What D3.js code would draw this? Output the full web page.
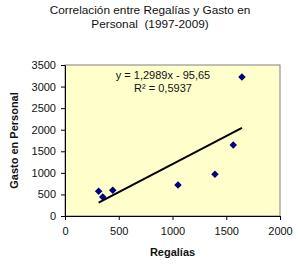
<!DOCTYPE html>
<html>
<head>
<meta charset="utf-8">
<script src="https://cdn.jsdelivr.net/npm/d3@7"></script>
<style>
  body { margin: 0; background: #fff; }
  svg text { font-family: "Liberation Sans", Arial, sans-serif; fill: #111; }
</style>
</head>
<body>
<svg id="chart" width="300" height="265"></svg>
<script>
// data
var regalias = [313, 351, 444, 1051, 1395, 1565, 1646]
var gasto = [573, 440, 596, 719, 967, 1646, 3222]
var xTicks = [0, 500, 1000, 1500, 2000]
var yTicks = [0, 500, 1000, 1500, 2000, 2500, 3000, 3500]
var slope = 1.2989
var intercept = -95.65
var eqLines = ["y = 1,2989x - 95,65", "R² = 0,5937"]
var titleLines = ["Correlación entre Regalías y Gasto en", "Personal  (1997-2009)"]

var margins = { top: 65, left: 65, right: 20, bottom: 49 }
var width = 300 - margins.left - margins.right
var height = 265 - margins.top - margins.bottom

var svg = d3.select('#chart')

// title
svg.append('text')
  .attr('x', 150)
  .attr('text-anchor', 'middle')
  .style('font-size', '11.8px')
  .style('white-space', 'pre')
  .selectAll('tspan')
  .data(titleLines)
  .enter()
  .append('tspan')
  .attr('x', 150)
  .attr('y', function(d, i) { return 14 + i * 13.5 })
  .text(function(d) { return d })

var x = d3.scaleLinear().domain([0, 2000]).range([0, width])
var y = d3.scaleLinear().domain([0, 3500]).range([height, 0])

var g = svg.append('g')
  .attr('transform', 'translate(' + margins.left + ',' + margins.top + ')')

g.append('rect')
  .attr('width', width)
  .attr('height', height)
  .attr('fill', '#FFFFCC')
  .attr('stroke', '#808080')
  .attr('stroke-width', 1)

var fmt = d3.format('d')
var xAxis = g.append('g')
  .attr('transform', 'translate(0,' + height + ')')
  .call(d3.axisBottom(x).tickValues(xTicks).tickFormat(fmt).tickSize(4).tickSizeOuter(0).tickPadding(7))
var yAxis = g.append('g')
  .call(d3.axisLeft(y).tickValues(yTicks).tickFormat(fmt).tickSize(4).tickSizeOuter(0).tickPadding(5))

;[xAxis, yAxis].forEach(function(a) {
  a.selectAll('text').style('font-size', '11px').attr('fill', '#111')
  a.selectAll('line').attr('stroke', '#000')
  a.select('.domain').attr('stroke', '#000')
})

// trend line from min x to max x
var x0 = d3.min(regalias), x1 = d3.max(regalias)
g.append('line')
  .attr('x1', x(x0)).attr('y1', y(slope * x0 + intercept))
  .attr('x2', x(x1)).attr('y2', y(slope * x1 + intercept))
  .attr('stroke', '#000')
  .attr('stroke-width', 2)

// points
var diamond = d3.symbol().type(d3.symbolDiamond2).size(36)
g.selectAll('.pt')
  .data(regalias)
  .enter()
  .append('path')
  .attr('class', 'pt')
  .attr('d', diamond)
  .attr('transform', function(d, i) { return 'translate(' + x(d) + ',' + y(gasto[i]) + ')' })
  .attr('fill', '#000080')

// equation
g.append('text')
  .attr('text-anchor', 'middle')
  .style('font-size', '11px')
  .selectAll('tspan')
  .data(eqLines)
  .enter()
  .append('tspan')
  .attr('x', 98)
  .attr('y', function(d, i) { return 14 + i * 13 })
  .text(function(d) { return d })

// axis titles
svg.append('text')
  .attr('x', margins.left + width / 2)
  .attr('y', 256)
  .attr('text-anchor', 'middle')
  .style('font-size', '11px')
  .style('font-weight', 'bold')
  .text('Regalías')

svg.append('text')
  .attr('transform', 'translate(18,' + (margins.top + height / 2) + ') rotate(-90)')
  .attr('text-anchor', 'middle')
  .style('font-size', '11px')
  .style('font-weight', 'bold')
  .text('Gasto en Personal')
</script>
</body>
</html>
